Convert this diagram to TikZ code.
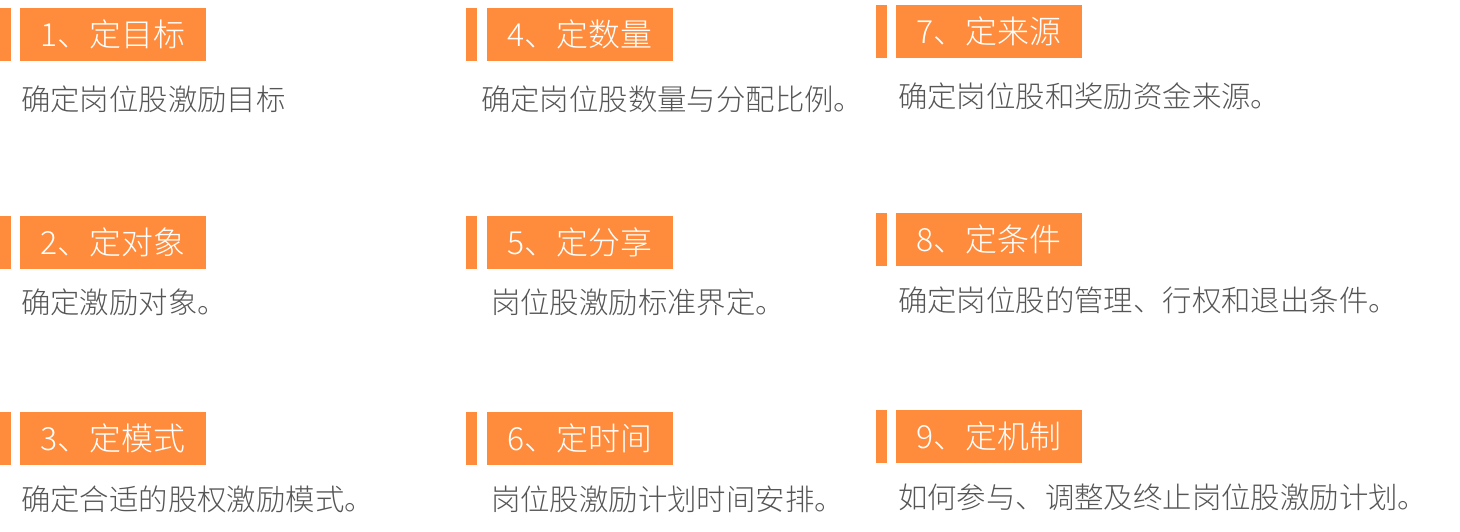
\documentclass[tikz,border=0pt]{standalone}
\usepackage{fontspec}
\newfontfamily\cjk{Noto Sans CJK SC}[UprightFont={* Light}]
\definecolor{stepOrange}{HTML}{FF8C3C}
\definecolor{descGray}{HTML}{555555}

\begin{document}
\begin{tikzpicture}
  [x=1bp,y=-1bp,
   bar/.style={fill=stepOrange,inner sep=0,minimum width=11bp,minimum height=53bp,anchor=north west},
   titlebox/.style={fill=stepOrange,text=white,inner sep=0,minimum width=186bp,minimum height=53bp,
     anchor=north west,font=\cjk\fontsize{32}{32}\selectfont},
   desc/.style={text=descGray,inner sep=0,anchor=west,font=\cjk\fontsize{29.5}{30}\selectfont}]
  \useasboundingbox (0,0) rectangle (1460,532);

  % first column
  \node[bar] (bar1) at (0,8) {};
  \node[titlebox] (t1) at (20,8) {1、定目标};
  \node[desc] (d1) at (21,99) {确定岗位股激励目标};
  \node[bar] (bar2) at (0,216) {};
  \node[titlebox] (t2) at (20,216) {2、定对象};
  \node[desc] (d2) at (21,302) {确定激励对象。};
  \node[bar] (bar3) at (0,412) {};
  \node[titlebox] (t3) at (20,412) {3、定模式};
  \node[desc] (d3) at (21,499) {确定合适的股权激励模式。};

  % second column
  \node[bar] (bar4) at (466,8) {};
  \node[titlebox] (t4) at (487,8) {4、定数量};
  \node[desc] (d4) at (481,99) {确定岗位股数量与分配比例。};
  \node[bar] (bar5) at (466,216) {};
  \node[titlebox] (t5) at (487,216) {5、定分享};
  \node[desc] (d5) at (491,302) {岗位股激励标准界定。};
  \node[bar] (bar6) at (466,412) {};
  \node[titlebox] (t6) at (487,412) {6、定时间};
  \node[desc] (d6) at (491,499) {岗位股激励计划时间安排。};

  % third column
  \node[bar] (bar7) at (876,5) {};
  \node[titlebox] (t7) at (896,5) {7、定来源};
  \node[desc] (d7) at (898,96) {确定岗位股和奖励资金来源。};
  \node[bar] (bar8) at (876,213) {};
  \node[titlebox] (t8) at (896,213) {8、定条件};
  \node[desc] (d8) at (898,300) {确定岗位股的管理、行权和退出条件。};
  \node[bar] (bar9) at (876,410) {};
  \node[titlebox] (t9) at (896,410) {9、定机制};
  \node[desc] (d9) at (898,497) {如何参与、调整及终止岗位股激励计划。};
\end{tikzpicture}
\end{document}
